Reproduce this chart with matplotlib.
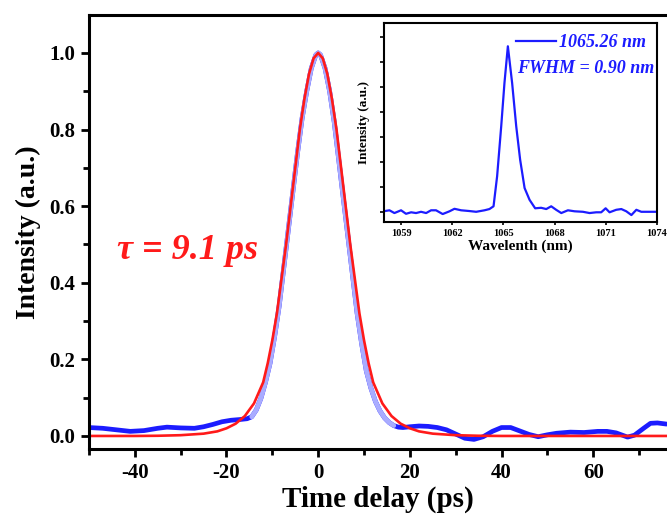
import matplotlib
matplotlib.use('Agg')
import matplotlib.pyplot as plt
from matplotlib.ticker import MultipleLocator

# Autocorrelation trace (measured)
t_meas = [-50, -47, -44, -41, -38, -35, -33, -30, -27, -25, -23, -21, -19, -17, -15.5,
          -14.5, -13.5, -12.5, -11.5, -10.5, -9.5, -8.5, -7.5, -6.5, -5.5, -4.5, -3.5,
          -2.5, -1.5, -0.5, 0, 0.5, 1.5, 2.5, 3.5, 4.5, 5.5, 6.5, 7.5, 8.5, 9.5, 10.5,
          11.5, 12.5, 13.5, 14.5, 15.5, 16.5, 17.5, 18.5, 20, 22, 24, 26, 28, 30, 32,
          34, 36, 38, 40, 42, 44, 46, 48, 50, 52, 55, 58, 61, 63, 65, 67.5, 69, 71,
          72.5, 74, 76]
i_meas = [0.022, 0.020, 0.016, 0.012, 0.014, 0.020, 0.023, 0.021, 0.020, 0.024, 0.030,
          0.037, 0.041, 0.043, 0.045, 0.050, 0.068, 0.098, 0.14, 0.19, 0.26, 0.34, 0.44,
          0.54, 0.64, 0.74, 0.83, 0.90, 0.96, 0.995, 1.0, 0.995, 0.96, 0.90, 0.82, 0.72,
          0.62, 0.52, 0.42, 0.32, 0.24, 0.17, 0.125, 0.09, 0.065, 0.047, 0.035, 0.027,
          0.023, 0.022, 0.024, 0.026, 0.025, 0.022, 0.016, 0.005, -0.006, -0.009,
          -0.002, 0.012, 0.022, 0.022, 0.013, 0.004, -0.002, 0.003, 0.007, 0.010,
          0.009, 0.012, 0.012, 0.008, -0.003, 0.002, 0.020, 0.033, 0.034, 0.031]

# Fit curve
t_fit = [-50, -40, -35, -30, -25, -22, -20, -18, -16, -14, -12, -11, -10, -9, -8, -7,
         -6, -5, -4, -3, -2, -1, 0, 1, 2, 3, 4, 5, 6, 7, 8, 9, 10, 11, 12, 14, 16, 18,
         20, 22, 25, 30, 35, 40, 50, 60, 76]
i_fit = [0, 0, 0.0005, 0.002, 0.006, 0.012, 0.02, 0.032, 0.052, 0.085, 0.14, 0.19,
         0.25, 0.32, 0.41, 0.50, 0.60, 0.70, 0.80, 0.88, 0.945, 0.986, 1.0, 0.986,
         0.945, 0.88, 0.80, 0.70, 0.60, 0.50, 0.41, 0.32, 0.25, 0.19, 0.14, 0.085,
         0.052, 0.032, 0.02, 0.012, 0.006, 0.002, 0.0005, 0, 0, 0, 0]

# Spectrum (inset)
wl = [1057.96, 1058.32, 1058.61, 1059.00, 1059.29, 1059.59, 1059.88, 1060.17, 1060.47,
      1060.76, 1061.05, 1061.44, 1061.84, 1062.13, 1062.52, 1063.01, 1063.40, 1063.89,
      1064.18, 1064.42, 1064.63, 1064.87, 1065.06, 1065.26, 1065.51, 1065.75, 1065.98,
      1066.24, 1066.53, 1066.86, 1067.21, 1067.51, 1067.80, 1068.09, 1068.39, 1068.78,
      1069.17, 1069.66, 1070.05, 1070.44, 1070.73, 1070.99, 1071.22, 1071.61, 1071.91,
      1072.20, 1072.50, 1072.79, 1073.08, 1073.47, 1074.00]
spec = [0.003, 0.007, -0.004, 0.007, -0.007, -0.001, -0.004, 0.001, -0.004, 0.007,
        0.007, -0.008, 0.003, 0.013, 0.007, 0.004, 0.001, 0.007, 0.012, 0.023, 0.143,
        0.343, 0.516, 0.663, 0.516, 0.343, 0.209, 0.096, 0.049, 0.015, 0.017, 0.012,
        0.023, 0.009, -0.004, 0.007, 0.003, 0.001, -0.004, -0.001, -0.001, 0.015,
        -0.001, 0.009, 0.012, 0.003, -0.012, 0.009, 0.001, 0.001, 0.001]

blue = '#1c1cff'
pale = '#a9acff'
red = '#ff1a1a'
serif = 'Liberation Serif'

plt.rcParams['font.family'] = serif
plt.rcParams['font.weight'] = 'bold'
plt.rcParams['axes.unicode_minus'] = False

fig = plt.figure(figsize=(6.67, 5.14), dpi=100)
ax = fig.add_axes([0.1334, 0.1265, 0.8666, 0.8443])

# measured trace: solid in the wings, pale on the steep part
ax.plot(t_meas, i_meas, color=blue, lw=3.4, solid_capstyle='round')
ax.plot(t_meas[15:48], i_meas[15:48], color=pale, lw=3.4, solid_capstyle='round')
ax.plot(t_fit, i_fit, color=red, lw=1.9)

ax.set_xlim(-50, 76.1)
ax.set_ylim(-0.034, 1.099)
ax.xaxis.set_major_locator(MultipleLocator(20))
ax.xaxis.set_minor_locator(MultipleLocator(10))
ax.yaxis.set_major_locator(MultipleLocator(0.2))
ax.yaxis.set_minor_locator(MultipleLocator(0.1))
ax.yaxis.set_major_formatter(plt.FormatStrFormatter('%.1f'))
ax.tick_params(which='major', direction='out', length=6, width=2, labelsize=15, pad=4)
ax.tick_params(which='minor', direction='out', length=4, width=2)
ax.tick_params(top=False, right=False)
for s in ['left', 'bottom', 'top']:
    ax.spines[s].set_linewidth(2.2)
ax.spines['right'].set_visible(False)
ax.set_xlabel('Time delay (ps)', fontsize=21, fontweight='bold', labelpad=2)
ax.set_ylabel('Intensity (a.u.)', fontsize=20, fontweight='bold', labelpad=6)

ax.text(-43.9, 0.485, 'τ = 9.1 ps', color=red, fontsize=26, fontweight='bold',
        fontstyle='italic', va='center', ha='left')

# inset spectrum
ins = fig.add_axes([0.5757, 0.568, 0.4093, 0.3872])
ins.plot(wl, spec, color=blue, lw=1.6, label='1065.26 nm')
ins.set_xlim(1058, 1074)
ins.set_ylim(-0.04, 0.756)
ins.set_xticks([1059, 1062, 1065, 1068, 1071, 1074])
ins.yaxis.set_major_locator(MultipleLocator(0.2))
ins.yaxis.set_minor_locator(MultipleLocator(0.1))
ins.set_yticklabels([])
ins.tick_params(which='both', direction='out', length=3, width=1.2, labelsize=7.5, pad=3)
ins.tick_params(axis='x', length=2)
for s in ins.spines.values():
    s.set_linewidth(1.5)
ins.set_xlabel('Wavelenth (nm)', fontsize=11, fontweight='bold', labelpad=1)
ins.set_ylabel('Intensity (a.u.)', fontsize=9.5, fontweight='bold', labelpad=4)
leg = ins.legend(loc='upper right', frameon=False, handlelength=2.2, handletextpad=0.2,
                 borderaxespad=0.2, prop={'family': serif, 'weight': 'bold',
                                         'style': 'italic', 'size': 13})
for txt in leg.get_texts():
    txt.set_color(blue)
ins.text(0.99, 0.77, 'FWHM = 0.90 nm', transform=ins.transAxes, color=blue,
         fontsize=13, fontweight='bold', fontstyle='italic', ha='right', va='center')

fig.savefig('out.png', dpi=100)
